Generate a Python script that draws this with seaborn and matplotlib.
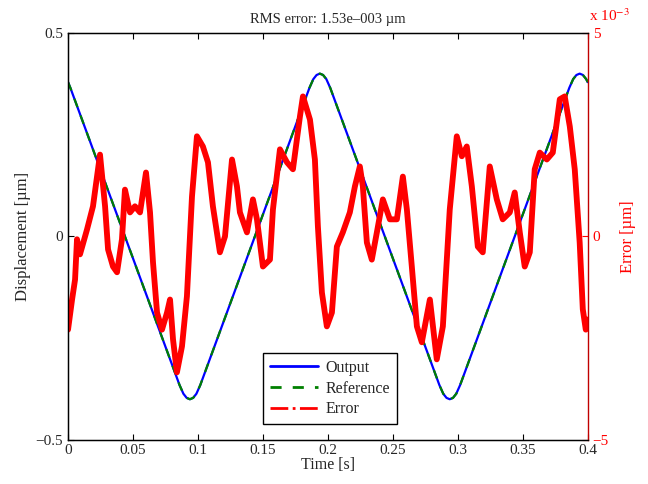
import numpy as np
import pandas as pd
import matplotlib
matplotlib.use('Agg')
import matplotlib.pyplot as plt
from matplotlib.lines import Line2D
import seaborn as sns

# output / reference displacement (um)
t_out = [0.0, 0.0018, 0.0858, 0.0888, 0.0913, 0.0938, 0.0963, 0.0988, 0.1018,
         0.1858, 0.1888, 0.1913, 0.1938, 0.1963, 0.1988, 0.2018,
         0.2858, 0.2888, 0.2913, 0.2938, 0.2963, 0.2988, 0.3018,
         0.3858, 0.3888, 0.3913, 0.3938, 0.3963, 0.3988, 0.4]
y_out = [0.379, 0.365, -0.365, -0.3865, -0.3966, -0.40, -0.3966, -0.3865, -0.365,
         0.365, 0.3865, 0.3966, 0.40, 0.3966, 0.3865, 0.365,
         -0.365, -0.3865, -0.3966, -0.40, -0.3966, -0.3865, -0.365,
         0.365, 0.3865, 0.3966, 0.40, 0.3966, 0.3865, 0.379]

# tracking error (x 1e-3 um)
t_err = [0.000, 0.0031, 0.0054, 0.0069, 0.0092, 0.0146, 0.0192, 0.0246, 0.0285, 0.0308,
         0.0346, 0.0377, 0.0415, 0.0438, 0.0477, 0.0515, 0.0554, 0.0600, 0.0631, 0.0654,
         0.0685, 0.0723, 0.0762, 0.0785, 0.0808, 0.0838, 0.0877, 0.0915, 0.0954, 0.0992,
         0.1038, 0.1077, 0.1115, 0.1169, 0.1208, 0.1262, 0.1300, 0.1323, 0.1377, 0.1423,
         0.1454, 0.1500, 0.1554, 0.1577, 0.1631, 0.1685, 0.1731, 0.1785, 0.1808, 0.1862,
         0.1900, 0.1923, 0.1954, 0.1992, 0.2031, 0.2069, 0.2115, 0.2169, 0.2208, 0.2246,
         0.2269, 0.2300, 0.2338, 0.2377, 0.2423, 0.2477, 0.2531, 0.2577, 0.2608, 0.2646,
         0.2685, 0.2723, 0.2785, 0.2838, 0.2885, 0.2938, 0.2992, 0.3031, 0.3069, 0.3108,
         0.3154, 0.3192, 0.3246, 0.3300, 0.3346, 0.3400, 0.3438, 0.3477, 0.3515, 0.3554,
         0.3592, 0.3631, 0.3685, 0.3731, 0.3785, 0.3823, 0.3862, 0.3900, 0.3938, 0.3962,
         0.3985, 0.4000]
e_err = [-2.29, -1.55, -1.06, -0.07, -0.44, 0.17, 0.74, 2.01, 0.74, -0.32,
         -0.74, -0.88, -0.07, 1.15, 0.59, 0.74, 0.59, 1.57, 0.59, -0.64,
         -1.87, -2.29, -1.87, -1.55, -2.53, -3.34, -2.70, -1.47, 0.98, 2.46,
         2.21, 1.82, 0.74, -0.39, 0.00, 1.89, 1.23, 0.59, 0.10, 0.91,
         0.42, -0.74, -0.57, 0.66, 2.14, 1.82, 1.65, 2.95, 3.44, 2.87,
         1.89, 0.25, -1.38, -2.21, -1.87, -0.25, 0.10, 0.59, 1.23, 1.72,
         1.23, -0.15, -0.57, 0.10, 0.91, 0.42, 0.42, 1.47, 0.66, -0.74,
         -2.21, -2.60, -1.55, -3.02, -2.21, 0.66, 2.46, 1.97, 2.21, 1.23,
         -0.25, -0.39, 1.72, 0.91, 0.42, 0.59, 1.08, 0.10, -0.74, -0.39,
         1.65, 2.06, 1.89, 2.06, 3.37, 3.44, 2.70, 1.65, -0.15, -1.79,
         -2.29, -2.04]

df_out = pd.DataFrame({'t': t_out, 'y': y_out})
df_err = pd.DataFrame({'t': t_err, 'e': np.array(e_err) * 1e-3})

sns.set_style('white')
plt.rcParams['font.family'] = ['Liberation Serif', 'DejaVu Serif']
plt.rcParams['mathtext.fontset'] = 'stix'

fig = plt.figure(figsize=(6.48, 4.84), dpi=100)
ax = fig.add_axes([0.105, 0.091, 0.802, 0.841])
ax2 = ax.twinx()

dash = (0, (4, 4))
sns.lineplot(data=df_out, x='t', y='y', ax=ax, color='blue', lw=1.6, sort=False)
sns.lineplot(data=df_out, x='t', y='y', ax=ax, color='green', lw=1.6,
             linestyle=dash, sort=False)
sns.lineplot(data=df_err, x='t', y='e', ax=ax2, color='red', lw=4.2, sort=False)

ax.set_xlim(0, 0.4)
ax.set_ylim(-0.5, 0.5)
ax.set_xticks(np.arange(0, 0.401, 0.05))
ax.set_xticklabels(['0', '0.05', '0.1', '0.15', '0.2', '0.25', '0.3', '0.35', '0.4'])
ax.set_yticks([-0.5, 0, 0.5])
ax.set_yticklabels(['\u22120.5', '0', '0.5'])
ax.set_xlabel('Time [s]', fontsize=11.5, labelpad=0)
ax.set_ylabel('Displacement [\u00b5m]', fontsize=12, labelpad=3)
ax.set_title('RMS error: 1.53e\u2013003 \u00b5m', fontsize=10.5, pad=7)
ax.tick_params(axis='both', direction='in', length=4, labelsize=11, top=True,
               bottom=True, left=True, right=False, color='black')
ax.tick_params(axis='x', pad=3)

ax2.set_ylim(-5e-3, 5e-3)
ax2.set_yticks([-5e-3, 0, 5e-3])
ax2.set_yticklabels(['\u22125', '0', '5'])
ax2.set_ylabel('Error [\u00b5m]', color='red', fontsize=12, labelpad=8)
ax2.tick_params(axis='y', direction='in', length=4, colors='red', labelsize=11)
ax2.text(1.003, 1.022, 'x 10$^{-3}$', transform=ax2.transAxes, color='red',
         fontsize=11, ha='left', va='bottom')

for s in ['left', 'top', 'bottom']:
    ax.spines[s].set_color('black')
    ax2.spines[s].set_color('black')
ax2.spines['right'].set_color('#c00000')
ax.spines['right'].set_visible(False)
for sp in ax2.spines.values():
    sp.set_linewidth(1.0)

handles = [Line2D([], [], color='blue', lw=2),
           Line2D([], [], color='green', lw=2, linestyle=dash),
           Line2D([], [], color='red', lw=2, linestyle='-.')]
leg = ax2.legend(handles, ['Output', 'Reference', 'Error'], loc='lower center',
                 bbox_to_anchor=(0.504, 0.02), fontsize=11.5, frameon=True,
                 fancybox=False, edgecolor='black', framealpha=1, handlelength=3.0,
                 handletextpad=0.5, borderpad=0.4, labelspacing=0.3)
leg.get_frame().set_linewidth(1.0)

fig.savefig('out.png', dpi=100)
